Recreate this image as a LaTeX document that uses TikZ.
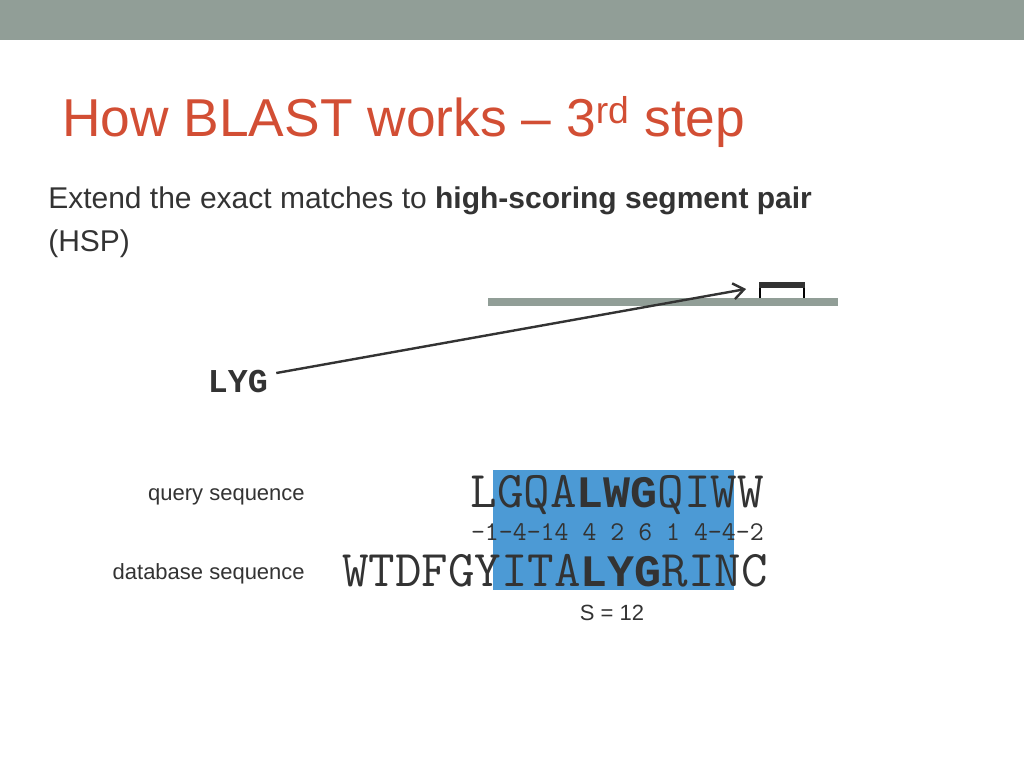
\documentclass[tikz,border=0pt]{standalone}
\usepackage{fontspec}
\setmainfont{Liberation Sans}
\setmonofont{Latin Modern Mono}
\newfontfamily\boldmono{Liberation Mono}
\usetikzlibrary{positioning,arrows.meta}
\definecolor{bargray}{HTML}{919E97}
\definecolor{titlered}{HTML}{D24E34}
\definecolor{hspblue}{HTML}{4C9AD5}
\definecolor{bodytext}{HTML}{333333}
\newcommand{\bseq}[1]{{\fontsize{33.75}{36}\boldmono\bfseries #1}}
\begin{document}
\begin{tikzpicture}[x=0.75pt,y=-0.75pt]
\tikzstyle{every node}+=[inner sep=0pt,text=bodytext]
\tikzstyle{seq}=[font=\fontsize{38.6}{40}\ttfamily]
\tikzstyle{lbl}=[font=\fontsize{16.5}{19}\selectfont,anchor=base east]
\useasboundingbox (0,0) rectangle (1024,768);
\fill [bargray] (0,0) rectangle (1024,40);
\node (title) [anchor=base west,text=titlered,font=\fontsize{40}{44}\selectfont] at (62,136) {How BLAST works -- 3\textsuperscript{rd} step};
\node (intro) [anchor=base west,font=\fontsize{22.5}{32}\selectfont] at (48,208) {Extend the exact matches to \textbf{high-scoring segment pair}};
\node (hsp) [anchor=base west,font=\fontsize{22.5}{32}\selectfont] at (48,251) {(HSP)};
% subject line with hit
\fill [bargray] (488,298) rectangle (838,306);
\draw [line width=1.5pt] (760,298) -- (760,285) -- (804,285) -- (804,298);
\fill [bodytext] (759,282) rectangle (805,288);
\node (word) [anchor=base,font=\fontsize{25}{28}\boldmono\bfseries] at (238,392) {LYG};
\coordinate (hit) at (746,289);
\draw [line width=1.8pt,bodytext,-{Straight Barb[length=8pt,width=12pt]}] (word.east)++(8,-8) -- (hit);
% alignment
\fill [hspblue] (493,470) rectangle (734,590);
\node (query) [seq,anchor=base east] at (764,507) {LGQA\bseq{LWG}QIWW};
\node (score) [anchor=base east,font=\fontsize{20.3}{22}\ttfamily] at (764,540) {-1-4-14 4 2 6 1 4-4-2};
\node (db) [seq,anchor=base east] at (768,586) {WTDFGYITA\bseq{LYG}RINC};
\node (qlbl) [lbl] at (305,500) {query sequence};
\node (dlbl) [lbl] at (305,579) {database sequence};
\node (s) [anchor=base,font=\fontsize{16.5}{19}\selectfont] at (612,620) {S = 12};
\end{tikzpicture}
\end{document}
